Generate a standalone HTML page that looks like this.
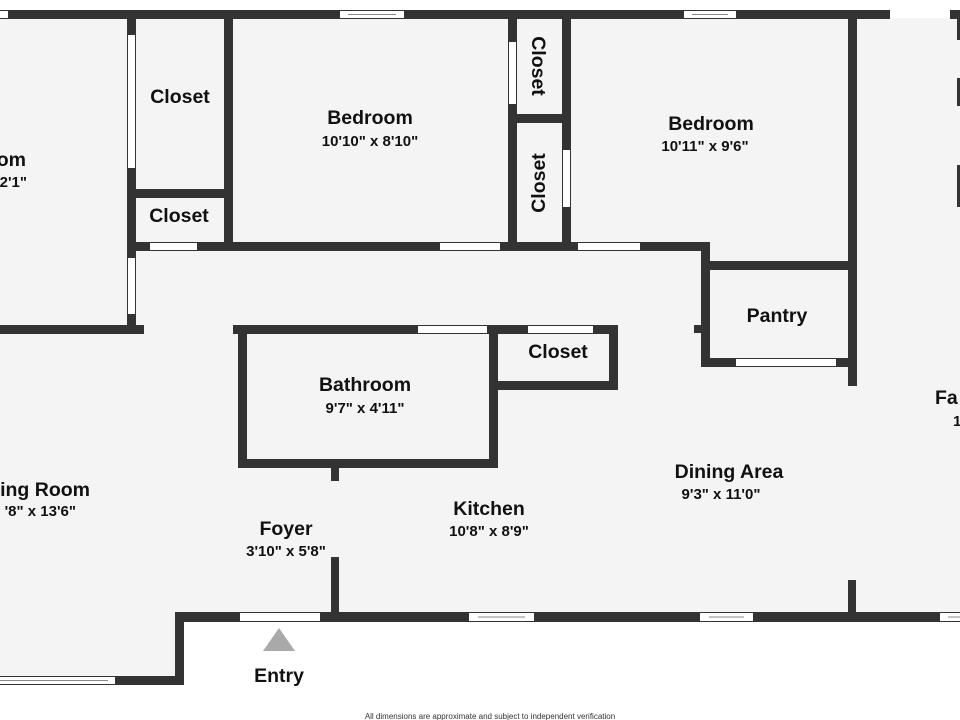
<!DOCTYPE html>
<html><head><meta charset="utf-8"><style>
html,body{margin:0;padding:0;background:#fff;width:960px;height:720px;overflow:hidden}
svg{display:block}
text{font-family:"Liberation Sans",sans-serif;fill:#111}
.n{font-size:19.5px;font-weight:bold}
.d{font-size:15px;font-weight:bold}
</style></head><body>
<svg width="960" height="720" viewBox="0 0 960 720">
<polygon points="0,14 960,14 960,617 180,617 180,680 0,680" fill="#f4f4f4"/>
<g fill="#333">
<rect x="0" y="10" width="890" height="9"/>
<rect x="950" y="10" width="10" height="9"/>
<rect x="175" y="612" width="785" height="10"/>
<rect x="175" y="612" width="9" height="73"/>
<rect x="0" y="676" width="184" height="9"/>
<rect x="957" y="14" width="3" height="26"/>
<rect x="957" y="78" width="3" height="28"/>
<rect x="957" y="165" width="3" height="42"/>
<rect x="127" y="14" width="9" height="320"/>
<rect x="0" y="325" width="144" height="9"/>
<rect x="127" y="189" width="104" height="9"/>
<rect x="224" y="14" width="9" height="237"/>
<rect x="127" y="242" width="578" height="9"/>
<rect x="701" y="242" width="9" height="125"/>
<rect x="508" y="14" width="9" height="237"/>
<rect x="508" y="114" width="62" height="9"/>
<rect x="562" y="14" width="9" height="237"/>
<rect x="848" y="14" width="9" height="372"/>
<rect x="701" y="261" width="156" height="9"/>
<rect x="701" y="358" width="156" height="9"/>
<rect x="694" y="325" width="11" height="8"/>
<rect x="233" y="325" width="385" height="9"/>
<rect x="238" y="325" width="9" height="143"/>
<rect x="238" y="459" width="260" height="9"/>
<rect x="489" y="325" width="9" height="143"/>
<rect x="609" y="325" width="9" height="65"/>
<rect x="489" y="381" width="129" height="9"/>
<rect x="331" y="463" width="8" height="18"/>
<rect x="331" y="557" width="8" height="60"/>
<rect x="848" y="580" width="8" height="37"/>
</g>
<g fill="#fff">
<rect x="0" y="11" width="8" height="7"/>
<rect x="340" y="11" width="64" height="7"/>
<rect x="684" y="11" width="52" height="7"/>
<rect x="890" y="11" width="60" height="7"/>
<rect x="128" y="35" width="7" height="133"/>
<rect x="128" y="258" width="7" height="56"/>
<rect x="150" y="243" width="47" height="7"/>
<rect x="440" y="243" width="60" height="7"/>
<rect x="578" y="243" width="62" height="7"/>
<rect x="509" y="42" width="7" height="62"/>
<rect x="563" y="150" width="7" height="57"/>
<rect x="736" y="359" width="100" height="7"/>
<rect x="418" y="326" width="69" height="7"/>
<rect x="528" y="326" width="65" height="7"/>
<rect x="240" y="613" width="80" height="8"/>
<rect x="469" y="613" width="65" height="8"/>
<rect x="700" y="613" width="53" height="8"/>
<rect x="940" y="613" width="20" height="8"/>
<rect x="0" y="677" width="115" height="7"/>
</g>
<g stroke="#888" stroke-width="1" fill="none">
<line x1="348" y1="14.5" x2="396" y2="14.5"/>
<line x1="692" y1="14.5" x2="728" y2="14.5"/>
<line x1="478" y1="617" x2="525" y2="617"/>
<line x1="709" y1="617" x2="744" y2="617"/>
<line x1="0" y1="680.5" x2="108" y2="680.5"/>
<line x1="948" y1="617" x2="960" y2="617"/>
</g>
<polygon points="279,628 295,651 263,651" fill="#a9a9a9"/>
<g text-anchor="middle">
<text class="n" x="180" y="103">Closet</text>
<text class="n" x="179" y="222">Closet</text>
<text class="n" x="370" y="124">Bedroom</text>
<text class="d" x="370" y="146">10'10" x 8'10"</text>
<text class="n" x="711" y="130">Bedroom</text>
<text class="d" x="705" y="151">10'11" x 9'6"</text>
<text class="n" x="0" y="0" transform="translate(532,66) rotate(90)">Closet</text>
<text class="n" x="0" y="0" transform="translate(545,183) rotate(-90)">Closet</text>
<text class="n" x="777" y="322">Pantry</text>
<text class="n" x="558" y="358">Closet</text>
<text class="n" x="365" y="391">Bathroom</text>
<text class="d" x="365" y="413">9'7" x 4'11"</text>
<text class="n" x="729" y="478">Dining Area</text>
<text class="d" x="721" y="499">9'3" x 11'0"</text>
<text class="n" x="489" y="515">Kitchen</text>
<text class="d" x="489" y="536">10'8" x 8'9"</text>
<text class="n" x="286" y="535">Foyer</text>
<text class="d" x="286" y="556">3'10" x 5'8"</text>
<text class="n" x="279" y="682">Entry</text>
<text x="490" y="719" style="font-size:8px;fill:#333">All dimensions are approximate and subject to independent verification</text>
</g>
<g text-anchor="end">
<text class="n" x="26" y="166">om</text>
<text class="d" x="27" y="187">2'1"</text>
<text class="n" x="90" y="496">ing Room</text>
<text class="d" x="76" y="516">'8" x 13'6"</text>
</g>
<text class="n" x="935" y="404">Fa</text>
<text class="d" x="953" y="426">1</text>
</svg>
</body></html>
